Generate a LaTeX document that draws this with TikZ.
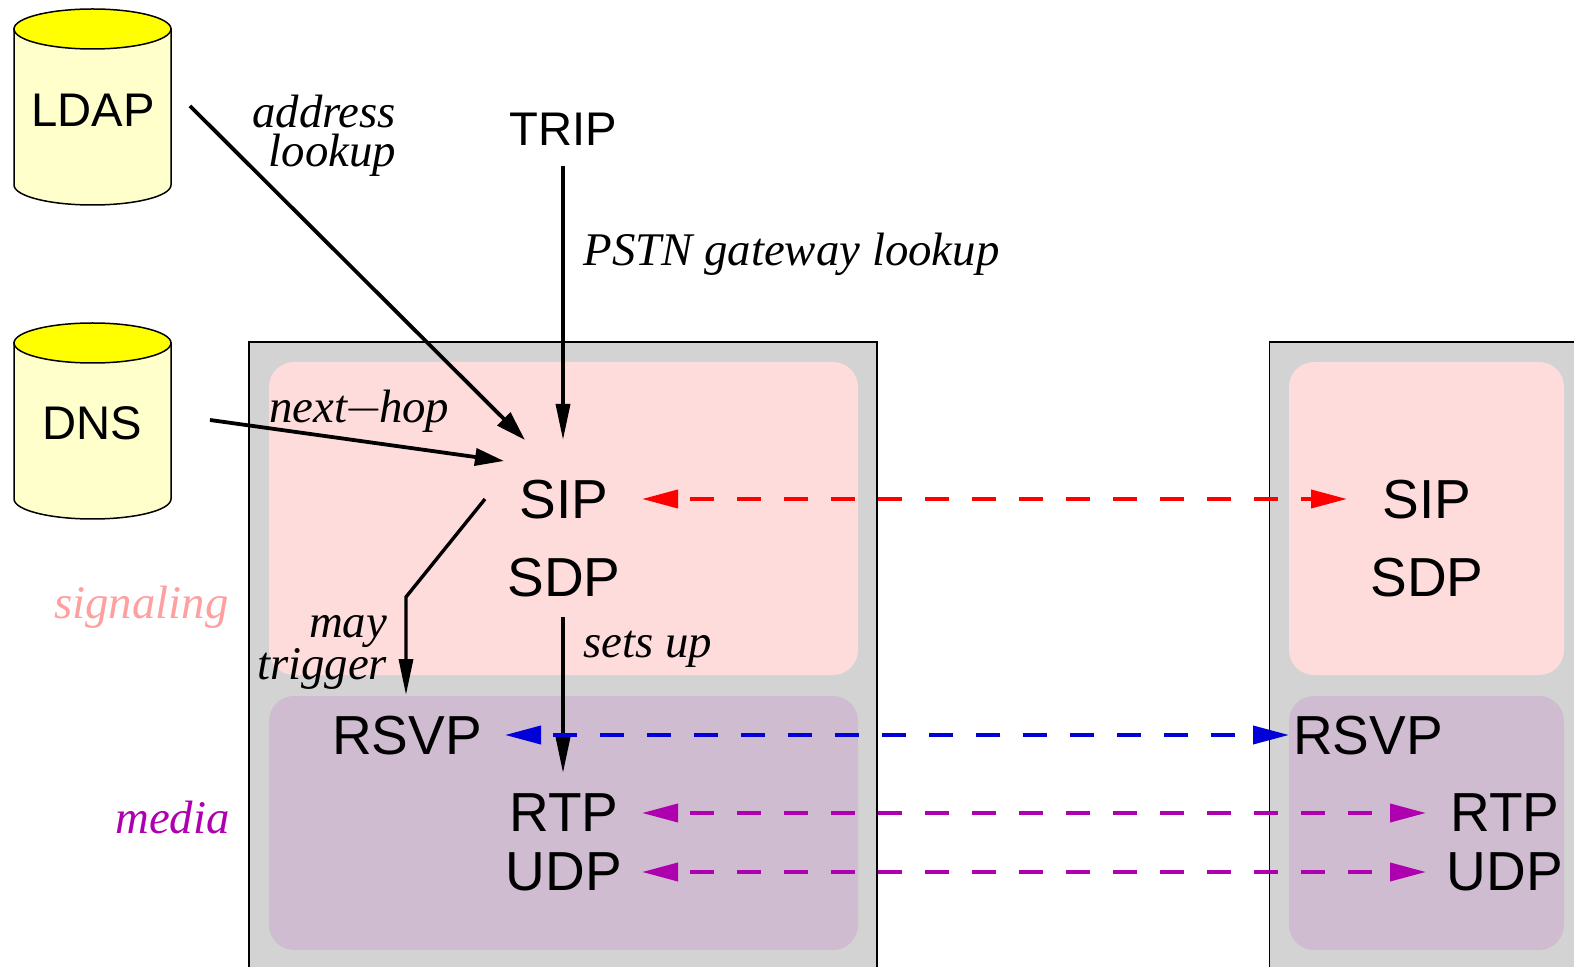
\documentclass[tikz,border=0pt]{standalone}
\usepackage{fontspec}
\setmainfont{Liberation Sans}
\newfontfamily\ital{Liberation Serif}[ItalicFont=* Italic]
\usetikzlibrary{arrows.meta}
\definecolor{pinkbg}{RGB}{255,220,220}
\definecolor{purpbg}{RGB}{207,188,208}
\definecolor{greybg}{RGB}{211,211,211}
\definecolor{cylbody}{RGB}{255,255,204}
\definecolor{cyltop}{RGB}{255,255,0}
\definecolor{sigcol}{RGB}{255,160,160}
\definecolor{medcol}{RGB}{175,0,175}
\definecolor{rsvpcol}{RGB}{0,0,215}
\definecolor{sipcol}{RGB}{255,0,0}
\tikzset{
  x=0.5pt,y=-0.5pt,
  proto/.style={font=\fontsize{27.5}{27.5}\selectfont,inner sep=0pt},
  small/.style={font=\fontsize{23.6}{23.6}\selectfont,inner sep=0pt},
  lbl/.style={font=\ital\itshape\fontsize{23.4}{19.3}\selectfont,inner sep=0pt,align=right},
  lblwide/.style={font=\ital\itshape\fontsize{23.4}{21}\selectfont,inner sep=0pt,align=right},
  arr/.style={line width=1.7pt,-{Triangle[length=18pt,width=7pt]}},
  arrdiag/.style={line width=1.9pt,-{Triangle[length=15pt,width=9pt]}},
  arrflat/.style={line width=1.9pt,-{Triangle[length=14.5pt,width=8.5pt]}},
  dbl/.style={line width=1.9pt,{Triangle[length=18pt,width=9pt]}-{Triangle[length=18pt,width=9pt]},dash pattern=on 12pt off 11.5pt,dash phase=17pt},
  cyledge/.style={line width=0.75pt},
}
\newcommand{\cyl}[1]{%
  \draw[cyledge,fill=cylbody] (14,#1+20) -- (14,#1+176) arc[start angle=180,end angle=360,x radius=78.5,y radius=-20] -- (171,#1+20) -- cycle;
  \draw[cyledge,fill=cyltop] (92.5,#1+20) ellipse[x radius=78.5,y radius=-20];
}
\begin{document}
\begin{tikzpicture}
\useasboundingbox (0,0) rectangle (1574,967);
\begin{scope}
\clip (0,0) rectangle (1574,967);
\draw[line width=0.7pt,fill=greybg] (249,342) rectangle (877,990);
\draw[line width=0.7pt,fill=greybg] (1269.5,342) rectangle (1600,990);
\fill[pinkbg,rounded corners=12.5pt] (269,362) rectangle (858,675);
\fill[purpbg,rounded corners=12.5pt] (269,696) rectangle (858,950);
\fill[pinkbg,rounded corners=12.5pt] (1289,362) rectangle (1564,675);
\fill[purpbg,rounded corners=12.5pt] (1289,696) rectangle (1564,950);
\end{scope}
\cyl{9}
\cyl{323}
\node[small] (ldap) at (93,110.5) {LDAP};
\node[small] (dns) at (92.5,423.5) {DNS};
\node[small] (trip) at (563,129.5) {TRIP};
\node[proto] (sip) at (564,500) {SIP};
\node[proto] (sdp) at (564,578) {SDP};
\node[proto] (rsvp) at (407,735.5) {RSVP};
\node[proto] (rtp) at (564,813) {RTP};
\node[proto] (udp) at (564,872) {UDP};
\node[proto] (sipb) at (1427,500) {SIP};
\node[proto] (sdpb) at (1427,578) {SDP};
\node[proto] (rsvpb) at (1368,735.5) {RSVP};
\node[proto] (rtpb) at (1505,813) {RTP};
\node[proto] (udpb) at (1505,872) {UDP};
\coordinate (ldapout) at (190,106);
\coordinate (dnsout) at (210,420);
\coordinate (sipinL) at (525,440);
\coordinate (sipinD) at (504,461);
\coordinate (sipinT) at (563,440);
\coordinate (tripout) at (563,166);
\coordinate (sipout) at (485,499);
\coordinate (bend) at (406,597);
\coordinate (rsvpin) at (406,695);
\coordinate (sdpout) at (563,617);
\coordinate (rtpin) at (563,773);
\draw[arrdiag] (ldapout) -- (sipinL);
\draw[arrflat] (dnsout) -- (sipinD);
\draw[arr] (tripout) -- (sipinT);
\draw[arr] (sipout) -- (bend) -- (rsvpin);
\draw[arr] (sdpout) -- (rtpin);
\coordinate (a1) at (642,499); \coordinate (a2) at (1347,499);
\coordinate (b1) at (505,735); \coordinate (b2) at (1289,735);
\coordinate (c1) at (642,813); \coordinate (c2) at (1426,813);
\coordinate (d1) at (642,872); \coordinate (d2) at (1426,872);
\draw[dbl,sipcol] (a1) -- (a2);
\draw[dbl,rsvpcol] (b1) -- (b2);
\draw[dbl,medcol] (c1) -- (c2);
\draw[dbl,medcol] (d1) -- (d2);
\node[lbl,anchor=east] (l1) at (396.5,135.5) {address\\lookup};
\node[lbl,anchor=west] (l2) at (583,254) {PSTN gateway lookup};
\node[lbl,anchor=west] (l3) at (269,411) {next\kern-1.5pt$-$\kern-2pt hop};
\node[lbl,anchor=east,text=sigcol] (l4) at (229,607) {signaling};
\node[lblwide,anchor=east] (l5) at (387.5,652.5) {may\\trigger};
\node[lbl,anchor=west] (l6) at (583,649) {sets up};
\node[lbl,anchor=east,text=medcol] (l7) at (230,818) {media};
\end{tikzpicture}
\end{document}
